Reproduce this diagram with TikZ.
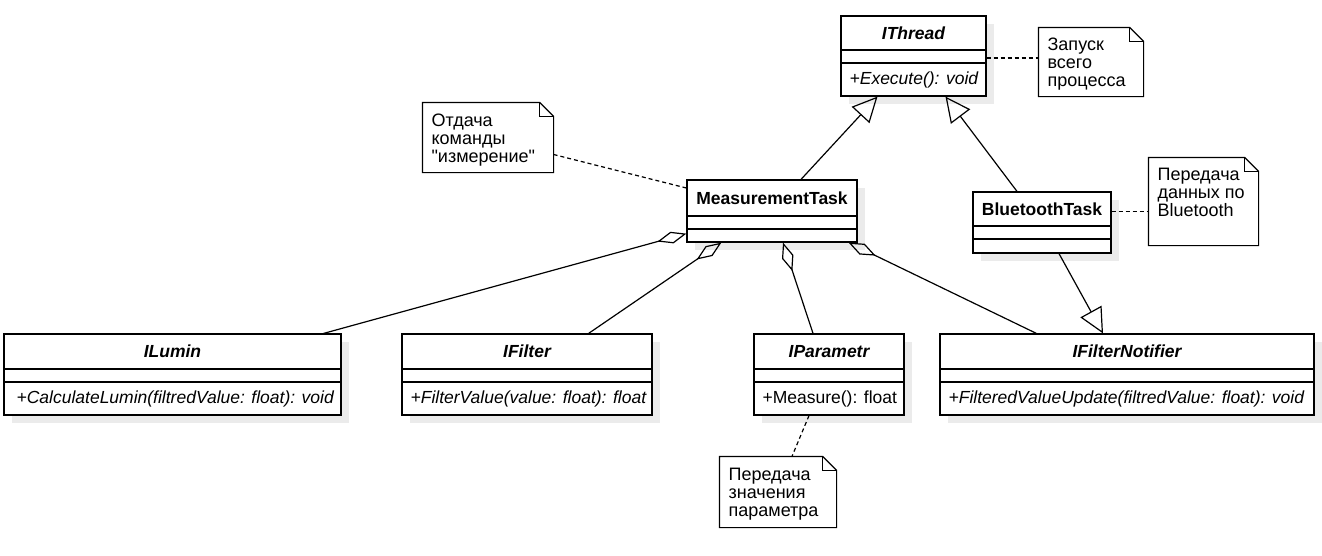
\documentclass[tikz,border=0pt]{standalone}
\usepackage{fontspec}
\setmainfont{Liberation Sans}
\usetikzlibrary{arrows.meta,shadows}

\tikzset{
  classbox/.style={draw, fill=white, inner sep=0pt,
    drop shadow={shadow xshift=8pt, shadow yshift=-8pt, fill=black!8, opacity=1}},
  absname/.style={font=\fontsize{17.5}{18}\selectfont\bfseries\itshape, inner sep=0pt},
  taskname/.style={font=\fontsize{17.5}{18}\selectfont\bfseries, inner sep=0pt},
  optext/.style={font=\fontsize{17.5}{18}\selectfont\itshape, anchor=west, inner sep=0pt},
  notebox/.style={inner sep=0pt},
  notetext/.style={font=\fontsize{18}{18}\selectfont, align=left, anchor=north west, inner sep=0pt},
  generalize/.style={-{Triangle[open,length=25pt,width=24pt]}},
  aggregate/.style={{Diamond[open,length=30pt,width=12pt]}-},
  noteline/.style={dash pattern=on 4pt off 3pt}
}

\begin{document}
\begin{tikzpicture}[x=1pt,y=-1pt,line width=1.2pt]
  \useasboundingbox (0,0) rectangle (1322,555);

  % interface of the thread
  \node[classbox,minimum width=145pt,minimum height=80pt] (ithread) at (913.5,56) {};
  \draw (841,50) -- (986,50);
  \draw (841,63) -- (986,63);
  \node[absname] (ithreadname) at (913.5,33) {IThread};
  \node[optext] (ithreadop) at (849,79.5) {+Execute(): void};

  % tasks
  \node[classbox,minimum width=170pt,minimum height=62pt] (mtask) at (772,211) {};
  \draw (687,216) -- (857,216);
  \draw (687,229) -- (857,229);
  \node[taskname] (mtaskname) at (772,198) {MeasurementTask};

  \node[classbox,minimum width=138pt,minimum height=61pt] (bttask) at (1042,222.5) {};
  \draw (973,226) -- (1111,226);
  \draw (973,239) -- (1111,239);
  \node[taskname] (bttaskname) at (1042,209) {BluetoothTask};

  % interfaces below
  \node[classbox,minimum width=337pt,minimum height=81pt] (ilumin) at (172.5,374.5) {};
  \draw (4,369) -- (341,369);
  \draw (4,382) -- (341,382);
  \node[absname] (iluminname) at (172.5,351.5) {ILumin};
  \node[optext] (iluminop) at (16,398.5) {+CalculateLumin(filtredValue: float): void};

  \node[classbox,minimum width=250pt,minimum height=81pt] (ifilter) at (527,374.5) {};
  \draw (402,369) -- (652,369);
  \draw (402,382) -- (652,382);
  \node[absname] (ifiltername) at (527,351.5) {IFilter};
  \node[optext] (ifilterop) at (410,398.5) {+FilterValue(value: float): float};

  \node[classbox,minimum width=150pt,minimum height=81pt] (iparam) at (829,374.5) {};
  \draw (754,369) -- (904,369);
  \draw (754,382) -- (904,382);
  \node[absname] (iparamname) at (829,351.5) {IParametr};
  \node[optext,font=\fontsize{17.5}{18}\selectfont] (iparamop) at (762,398.5) {+Measure(): float};

  \node[classbox,minimum width=374pt,minimum height=81pt] (inotify) at (1127,374.5) {};
  \draw (940,369) -- (1314,369);
  \draw (940,382) -- (1314,382);
  \node[absname] (inotifyname) at (1127,351.5) {IFilterNotifier};
  \node[optext] (inotifyop) at (948,398.5) {+FilteredValueUpdate(filtredValue: float): void};

  % notes
  \node[notebox,minimum width=104pt,minimum height=68pt] (nrun) at (1091,62) {};
  \node[notetext] (nruntext) at (1047,37) {Запуск\\всего\\процесса};
  \node[notebox,minimum width=130pt,minimum height=69pt] (ncmd) at (488,137.5) {};
  \node[notetext] (ncmdtext) at (431,113) {Отдача\\команды\\\textquotedbl измерение\textquotedbl};
  \node[notebox,minimum width=109pt,minimum height=87pt] (nbt) at (1203.5,201.5) {};
  \node[notetext] (nbttext) at (1157,168) {Передача\\данных по\\Bluetooth};
  \node[notebox,minimum width=116pt,minimum height=70pt] (nparam) at (778,492) {};
  \node[notetext] (nparamtext) at (728,468) {Передача\\значения\\параметра};

  \foreach \n in {nrun,ncmd,nbt,nparam} {
    \draw (\n.north west) -- ([xshift=-14pt]\n.north east) -- ([yshift=-14pt]\n.north east)
      -- (\n.south east) -- (\n.south west) -- cycle;
    \draw ([xshift=-14pt]\n.north east) |- ([yshift=-14pt]\n.north east);
  }

  % inheritance
  \draw[generalize] ([xshift=29pt]mtask.north) -- ([xshift=-36pt]ithread.south);
  \draw[generalize] ([xshift=-25pt]bttask.north) -- ([xshift=32pt]ithread.south);
  \draw[generalize] ([xshift=17pt]bttask.south) -- ([xshift=-24pt]inotify.north);

  % aggregation
  \draw[aggregate] ([yshift=9pt]mtask.south west) -- ([xshift=-18pt]ilumin.north east);
  \draw[aggregate] ([xshift=35pt]mtask.south west) -- ([xshift=-64pt]ifilter.north east);
  \draw[aggregate] ([xshift=11pt]mtask.south) -- ([xshift=-16pt]iparam.north);
  \draw[aggregate] ([xshift=-9pt]mtask.south east) -- ([xshift=97pt]inotify.north west);

  % note links
  \draw[noteline] ([yshift=-2pt]ithread.east) -- ([yshift=-2pt]ithread.east -| nrun.west);
  \draw[noteline] ([yshift=-17pt]ncmd.east) -- ([yshift=23pt]mtask.west);
  \draw[noteline] ([yshift=11pt]bttask.east) -- ([yshift=11pt]bttask.east -| nbt.west);
  \draw[noteline] ([xshift=-20pt]iparam.south) -- ([xshift=14pt]nparam.north);
\end{tikzpicture}
\end{document}
